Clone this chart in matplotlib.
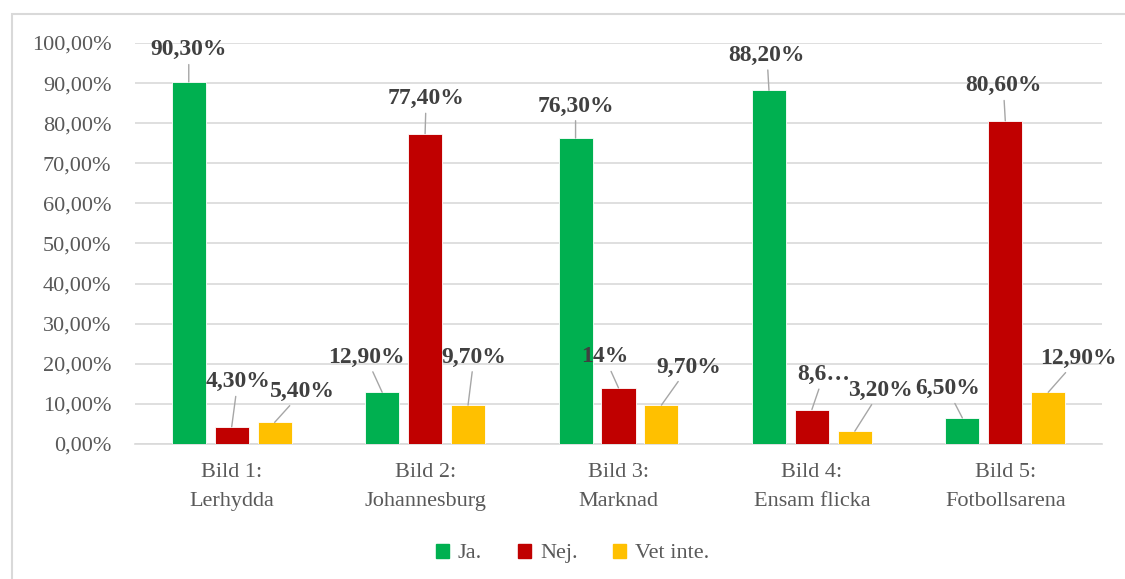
import matplotlib
matplotlib.use("Agg")
import matplotlib.pyplot as plt
import matplotlib.patches as mpatches
import numpy as np

# Data
categories = ["Bild 1:\nLerhydda", "Bild 2:\nJohannesburg", "Bild 3:\nMarknad",
              "Bild 4:\nEnsam flicka", "Bild 5:\nFotbollsarena"]
series_names = ["Ja.", "Nej.", "Vet inte."]
ja = [90.3, 12.9, 76.3, 88.2, 6.5]
nej = [4.3, 77.4, 14.0, 8.6, 80.6]
vet_inte = [5.4, 9.7, 9.7, 3.2, 12.9]
label_text = [
    ["90,30%", "12,90%", "76,30%", "88,20%", "6,50%"],
    ["4,30%", "77,40%", "14%", "8,6…", "80,60%"],
    ["5,40%", "9,70%", "9,70%", "3,20%", "12,90%"],
]
y_ticks = [0, 10, 20, 30, 40, 50, 60, 70, 80, 90, 100]

colours = ["#00B050", "#C00000", "#FFC000"]

# label offsets from bar top, pixels (dx, dy)
offsets = [
    [(0, 32), (-16, 35), (0, 32), (-2, 35), (-15, 29)],
    [(6, 45), (1, 35), (-14, 31), (12, 35), (-2, 35)],
    [(28, 31), (6, 48), (27, 38), (26, 41), (30, 34)],
]

plt.rcParams["font.family"] = ["Liberation Serif", "DejaVu Serif"]

fig = plt.figure(figsize=(11.25, 5.79), dpi=100)
ax = fig.add_axes([135 / 1125, 135 / 579, 967 / 1125, 401 / 579])

# outer chart border
border = mpatches.Rectangle((12 / 1125, -0.1), 1.2, (579 - 14) / 579 + 0.1,
                            transform=fig.transFigure, fill=False,
                            edgecolor="#D9D9D9", linewidth=1.5)
fig.patches.append(border)

x = np.arange(len(categories))
spacing = 0.222
width = 0.176
all_series = [ja, nej, vet_inte]
for s, vals in enumerate(all_series):
    xs = x + (s - 1) * spacing
    ax.bar(xs, vals, width=width, color=colours[s], label=series_names[s],
           edgecolor="white", linewidth=0.6, zorder=3)
    for i, v in enumerate(vals):
        dx, dy = offsets[s][i]
        ax.annotate(label_text[s][i], xy=(xs[i], v), xytext=(dx, dy),
                    textcoords="offset pixels", ha="center", va="center",
                    fontsize=17, fontweight="bold", color="#404040",
                    arrowprops=dict(arrowstyle="-", color="#A6A6A6", lw=1,
                                    shrinkA=1, shrinkB=0),
                    zorder=5, annotation_clip=False)

ax.set_xlim(-0.5, len(categories) - 0.5)
ax.set_ylim(0, 100)
ax.set_yticks(y_ticks)
ax.set_yticklabels([f"{t:.2f}".replace(".", ",") + "%" for t in y_ticks])
ax.set_xticks(x)
ax.set_xticklabels(categories, linespacing=1.65)
ax.tick_params(axis="both", length=0, labelsize=16, labelcolor="#595959")
ax.tick_params(axis="y", pad=17)
ax.tick_params(axis="x", pad=14)
ax.grid(axis="y", color="#D9D9D9", linewidth=1.2, zorder=0)
ax.set_axisbelow(True)
for sp in ["top", "right", "left"]:
    ax.spines[sp].set_visible(False)
ax.spines["bottom"].set_color("#D9D9D9")
ax.spines["bottom"].set_linewidth(1.2)

handles = [mpatches.Patch(color=colours[i], label=series_names[i]) for i in range(3)]
fig.legend(handles=handles, loc="center", bbox_to_anchor=(0.509, 0.044), ncol=3,
           frameon=False, fontsize=16, labelcolor="#595959",
           handlelength=0.6, handleheight=0.6, handletextpad=0.4, columnspacing=1.6)

fig.savefig("out.png", dpi=100)
